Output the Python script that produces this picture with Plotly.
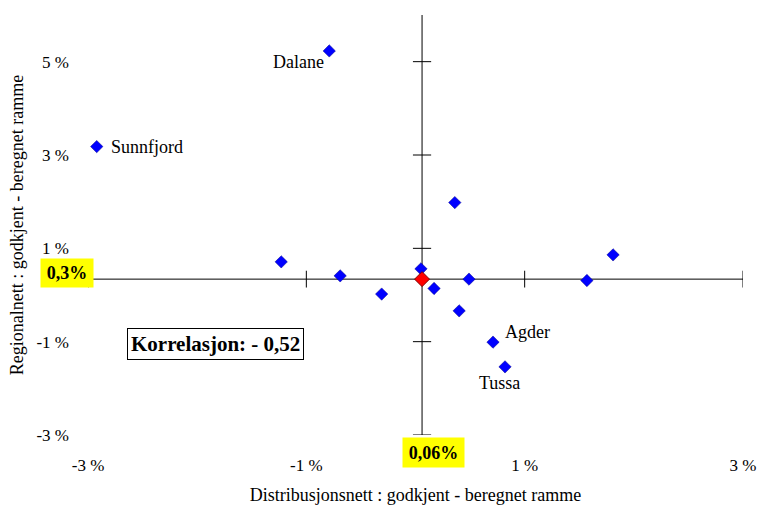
import plotly.graph_objects as go

# Distribusjonsnett (x) og regionalnett (y), godkjent - beregnet ramme, i %
dist = [-0.79, -2.92, -1.23, -0.69, -0.31, 0.05, 0.17, 0.36, 0.49, 0.40, 0.71, 0.82, 1.57, 1.81]
regional = [5.23, 3.18, 0.71, 0.41, 0.02, 0.56, 0.14, 1.98, 0.34, -0.34, -1.01, -1.54, 0.31, 0.86]
names = ["Dalane", "Sunnfjord", "", "", "", "", "", "", "", "", "Agder", "Tussa", "", ""]

# gjennomsnitt (aksene krysser her)
avg_x = 0.06
avg_y = 0.34
avg_x_text = "0,06%"
avg_y_text = "0,3%"
correlation_text = "Korrelasjon: - 0,52"

x_ticks = [-3, -1, 1, 3]
y_ticks = [-3, -1, 1, 3, 5]
x_range = [-3, 3]
y_range = [-3, 6]

serif = "Liberation Serif, Times New Roman, serif"

# where each name sits next to its point
label_style = {
    "Dalane": dict(xanchor="right", xshift=-3, yshift=-11),
    "Sunnfjord": dict(xanchor="left", xshift=12, yshift=0),
    "Agder": dict(xanchor="left", xshift=10, yshift=10),
    "Tussa": dict(xanchor="center", xshift=-6, yshift=-16),
}

fig = go.Figure()

# tick marks on the crossing axes
fig.add_trace(go.Scatter(
    x=[avg_x] * len(y_ticks), y=y_ticks, mode="markers",
    marker=dict(symbol="line-ew", size=13, line=dict(color="black", width=1)),
    hoverinfo="skip", showlegend=False
))
fig.add_trace(go.Scatter(
    x=x_ticks, y=[avg_y] * len(x_ticks), mode="markers",
    marker=dict(symbol="line-ns", size=12, line=dict(color="black", width=1)),
    hoverinfo="skip", showlegend=False
))

fig.add_trace(go.Scatter(
    x=dist, y=regional, mode="markers",
    marker=dict(symbol="diamond", size=9.5, color="#0000FF",
                line=dict(color="#00008B", width=0.5)),
    showlegend=False, cliponaxis=False
))

fig.add_trace(go.Scatter(
    x=[avg_x], y=[avg_y], mode="markers",
    marker=dict(symbol="diamond", size=11.5, color="#FF0000",
                line=dict(color="#800000", width=1)),
    showlegend=False
))

for xv, yv, name in zip(dist, regional, names):
    if name:
        fig.add_annotation(
            text=name, x=xv, y=yv, showarrow=False, yanchor="middle",
            font=dict(family=serif, size=18, color="black"),
            **label_style[name]
        )

# crossing axes
fig.add_shape(type="line", x0=avg_x, x1=avg_x, y0=y_range[0], y1=y_range[1],
              xref="x", yref="y", line=dict(color="black", width=1), layer="below")
fig.add_shape(type="line", x0=x_range[0], x1=x_range[1], y0=avg_y, y1=avg_y,
              xref="x", yref="y", line=dict(color="black", width=1), layer="below")

fig.add_annotation(
    text="<b>" + avg_y_text + "</b>", xref="paper", x=0, xanchor="right", xshift=6,
    yref="y", y=avg_y, yanchor="middle", yshift=6, showarrow=False,
    font=dict(family=serif, size=18, color="black"),
    bgcolor="#FFFF00", width=44, height=20, borderpad=4
)
fig.add_annotation(
    text="<b>" + avg_x_text + "</b>", xref="x", x=avg_x, xanchor="center", xshift=11,
    yref="paper", y=0, yanchor="top", yshift=-2, showarrow=False,
    font=dict(family=serif, size=18, color="black"),
    bgcolor="#FFFF00", width=53, height=21, borderpad=4
)
fig.add_annotation(
    text="<b>" + correlation_text + "</b>", xref="x", x=-1.83, yref="y", y=-1.04,
    showarrow=False, font=dict(family=serif, size=21, color="black"),
    bgcolor="white", bordercolor="black", borderwidth=1, borderpad=3
)

fig.update_layout(
    width=758, height=505,
    margin=dict(l=88, r=15, t=15, b=70),
    paper_bgcolor="white", plot_bgcolor="white",
    font=dict(family=serif, size=17, color="black"),
    xaxis=dict(
        range=x_range, tickvals=x_ticks, ticktext=[f"{v} %" for v in x_ticks],
        showgrid=False, zeroline=False, showline=False, ticks="",
        ticklabelstandoff=18, automargin=False,
        title=dict(text="Distribusjonsnett : godkjent - beregnet ramme",
                   font=dict(family=serif, size=18), standoff=28),
    ),
    yaxis=dict(
        range=y_range, tickvals=y_ticks, ticktext=[f"{v} %" for v in y_ticks],
        showgrid=False, zeroline=False, showline=False, ticks="",
        ticklabelstandoff=18, automargin=False,
        title=dict(text="Regionalnett : godkjent - beregnet ramme",
                   font=dict(family=serif, size=18), standoff=8),
    ),
)

# drop the default 8px body margin so the figure fills the window exactly
fig.write_html("out.html", config={"displayModeBar": False},
               post_script="document.body.style.margin = '0';")
